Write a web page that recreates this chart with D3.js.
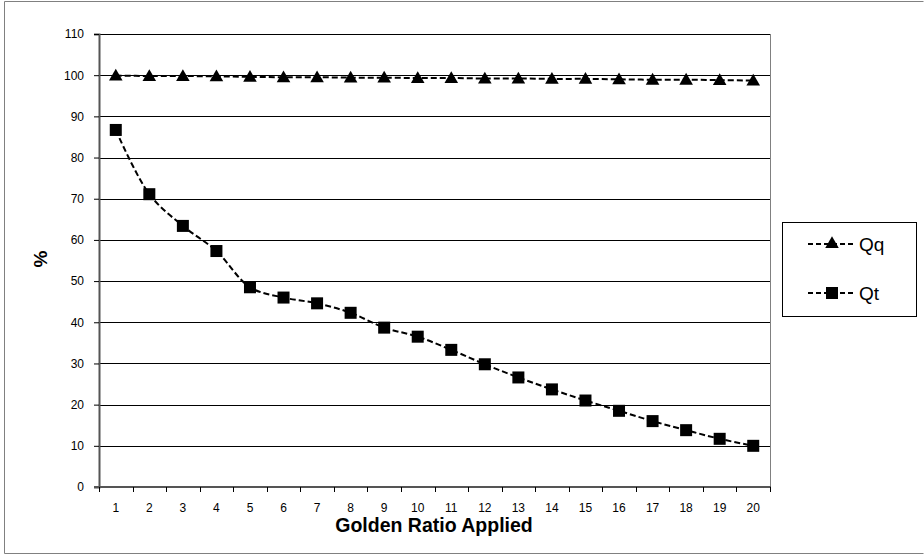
<!DOCTYPE html>
<html>
<head>
<meta charset="utf-8">
<script src="https://cdn.jsdelivr.net/npm/d3@7"></script>
<style>
  html, body { margin: 0; padding: 0; background: #fff; }
  svg { display: block; font-family: "Liberation Sans", Arial, sans-serif; }
</style>
</head>
<body>
<svg id="chart" width="924" height="555"></svg>
<script>
// Number of golden-ratio applications on the x axis
const steps = d3.range(1, 21);
// Percentage retained, per series
const qq = [99.9, 99.8, 99.8, 99.7, 99.6, 99.5, 99.5, 99.4, 99.4, 99.3,
            99.3, 99.2, 99.2, 99.1, 99.1, 99.0, 98.9, 98.9, 98.8, 98.7];
const qt = [86.7, 71.1, 63.4, 57.3, 48.5, 46.0, 44.6, 42.3, 38.7, 36.5,
            33.3, 29.8, 26.6, 23.7, 21.0, 18.5, 16.0, 13.8, 11.7, 10.0];
const yTicks = d3.range(0, 111, 10);
const seriesNames = ["Qq", "Qt"];

const svg = d3.select("#chart");

// outer frame
svg.append("path")
  .attr("d", "M4.5,553.5 V1.5 H923.5 M4.5,553.5 H923.5")
  .attr("fill", "none").attr("stroke", "#808080").attr("stroke-width", 1);

const plot = { left: 99, right: 770, top: 34, bottom: 487 };

const x = d3.scaleBand().domain(steps).range([plot.left, plot.right]);
const y = d3.scaleLinear().domain([0, 110]).range([plot.bottom, plot.top]);
const cx = d => x(d) + x.bandwidth() / 2;

// horizontal gridlines
svg.append("g").selectAll("line").data(yTicks.filter(t => t > 0)).join("line")
  .attr("x1", plot.left).attr("x2", plot.right)
  .attr("y1", d => Math.round(y(d)) + 0.5).attr("y2", d => Math.round(y(d)) + 0.5)
  .attr("stroke", "#000").attr("stroke-width", 1);

// right edge of plot area
svg.append("line")
  .attr("x1", plot.right + 0.5).attr("x2", plot.right + 0.5)
  .attr("y1", plot.top).attr("y2", plot.bottom)
  .attr("stroke", "#808080");

// y axis
const yAxis = svg.append("g")
  .attr("transform", `translate(${plot.left},0)`)
  .call(d3.axisLeft(y).tickValues(yTicks).tickSize(5).tickPadding(10));
yAxis.select(".domain").attr("stroke", "#555").attr("stroke-width", 2);
yAxis.selectAll(".tick line").attr("stroke", "#000");
yAxis.selectAll("text").attr("font-size", 12).attr("fill", "#000")
  .attr("font-family", "Liberation Sans, Arial, sans-serif");

// x axis with ticks at category boundaries
const xAxis = svg.append("g")
  .attr("transform", `translate(0,${plot.bottom})`);
xAxis.append("line")
  .attr("x1", plot.left - 5).attr("x2", plot.right + 1)
  .attr("y1", 0).attr("y2", 0)
  .attr("stroke", "#555").attr("stroke-width", 2);
const bounds = steps.map(s => x(s)).concat([plot.right]);
xAxis.selectAll("line.tk").data(bounds).join("line").attr("class", "tk")
  .attr("x1", d => Math.round(d) + 0.5).attr("x2", d => Math.round(d) + 0.5)
  .attr("y1", 0).attr("y2", 5).attr("stroke", "#000");
xAxis.selectAll("text").data(steps).join("text")
  .attr("x", d => cx(d)).attr("y", 25)
  .attr("text-anchor", "middle").attr("font-size", 12).attr("fill", "#000")
  .text(d => d);

// axis titles
svg.append("text")
  .attr("x", 434).attr("y", 532)
  .attr("text-anchor", "middle").attr("font-size", 19.5).attr("font-weight", "bold")
  .text("Golden Ratio Applied");
svg.append("text")
  .attr("transform", "translate(47,259) rotate(-90)")
  .attr("text-anchor", "middle").attr("font-size", 19).attr("font-weight", "bold")
  .text("%");

// series
const line = d3.line().x((d, i) => cx(steps[i])).y(d => y(d)).curve(d3.curveCatmullRom.alpha(0.5));
const triangle = d3.symbol().type(d3.symbolTriangle).size(80);

function drawSeries(vals, marker) {
  svg.append("path").datum(vals)
    .attr("d", line)
    .attr("fill", "none").attr("stroke", "#000")
    .attr("stroke-width", 2).attr("stroke-dasharray", "6,3");
  const g = svg.append("g");
  if (marker === "square") {
    g.selectAll("rect").data(vals).join("rect")
      .attr("x", (d, i) => cx(steps[i]) - 6).attr("y", d => y(d) - 6)
      .attr("width", 12).attr("height", 12).attr("fill", "#000");
  } else {
    g.selectAll("path").data(vals).join("path")
      .attr("d", triangle)
      .attr("transform", (d, i) => `translate(${cx(steps[i])},${y(d) + 1})`)
      .attr("fill", "#000");
  }
}
drawSeries(qq, "triangle");
drawSeries(qt, "square");

// legend
const legend = svg.append("g");
legend.append("rect")
  .attr("x", 782.5).attr("y", 222.5).attr("width", 134).attr("height", 94)
  .attr("fill", "#fff").attr("stroke", "#000");
const legendRows = [
  { name: seriesNames[0], ly: 244, marker: "triangle" },
  { name: seriesNames[1], ly: 293, marker: "square" }
];
legendRows.forEach(r => {
  legend.append("line")
    .attr("x1", 808).attr("x2", 856).attr("y1", r.ly).attr("y2", r.ly)
    .attr("stroke", "#000").attr("stroke-width", 2).attr("stroke-dasharray", "5,3");
  if (r.marker === "square") {
    legend.append("rect").attr("x", 826).attr("y", r.ly - 6)
      .attr("width", 12).attr("height", 12).attr("fill", "#000");
  } else {
    legend.append("path").attr("d", triangle)
      .attr("transform", `translate(832,${r.ly})`).attr("fill", "#000");
  }
  legend.append("text")
    .attr("x", 859).attr("y", r.ly + 7)
    .attr("font-size", 19).attr("fill", "#000")
    .text(r.name);
});
</script>
</body>
</html>
